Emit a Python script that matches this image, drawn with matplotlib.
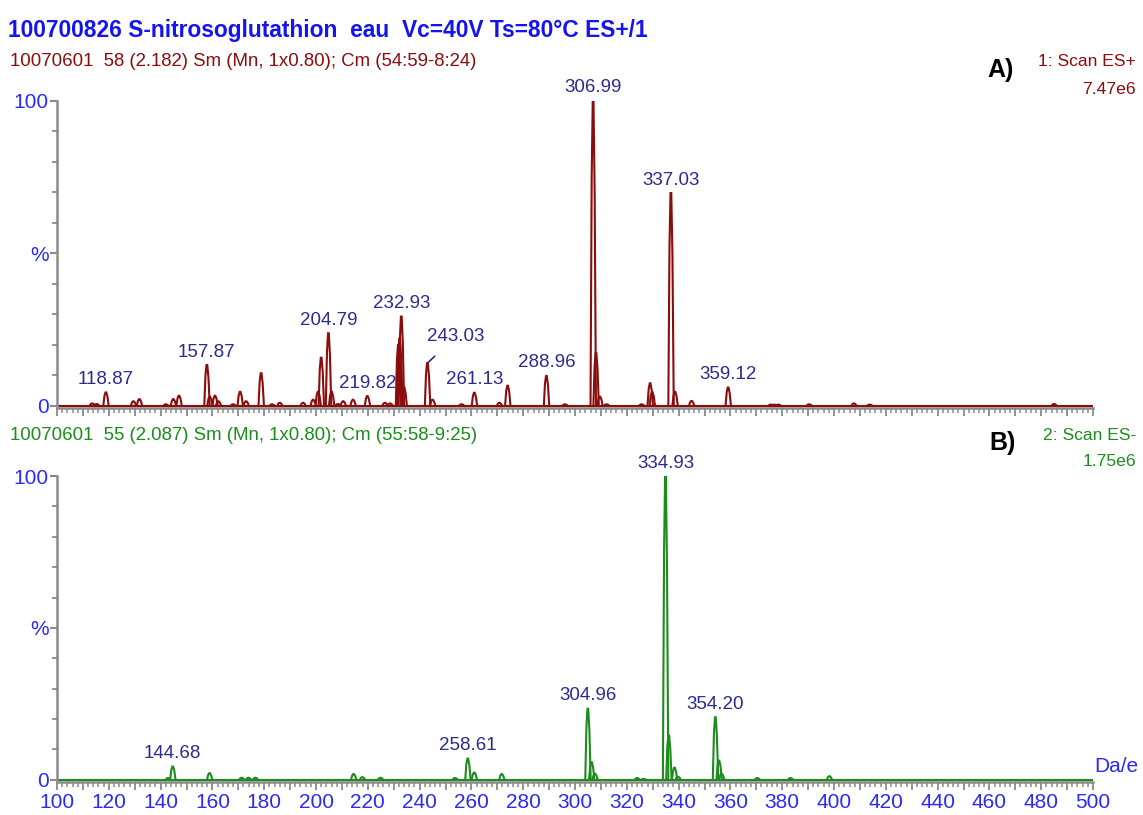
import matplotlib
matplotlib.use('Agg')
import matplotlib.pyplot as plt
from matplotlib.ticker import MultipleLocator, FixedLocator, FuncFormatter

plt.rcParams['font.family'] = ['Liberation Sans', 'DejaVu Sans']

# ES+ scan (m/z, relative intensity %)
mz_pos = [113.6, 115.3, 118.87, 129.5, 131.8, 142.0, 144.9, 147.1, 157.87, 159.0,
          161.0, 162.3, 168.0, 170.7, 173.0, 178.8, 183.0, 186.0, 195.0, 198.9,
          200.8, 202.0, 204.79, 206.0, 208.5, 210.5, 214.3, 219.82, 226.6, 228.6,
          231.8, 232.3, 232.93, 234.0, 243.03, 245.0, 256.2, 261.13, 270.8, 274.0,
          288.96, 296.1, 306.99, 308.1, 309.6, 312.2, 325.7, 329.0, 329.8, 337.03,
          338.6, 345.0, 359.12, 375.6, 377.0, 378.5, 390.4, 407.7, 413.8, 485.0]
int_pos = [0.8, 0.6, 4.4, 1.5, 2.2, 0.5, 2.2, 3.3, 13.4, 3.0,
           3.3, 1.5, 0.5, 4.6, 1.5, 10.7, 0.5, 1.0, 1.0, 2.0,
           4.6, 15.8, 23.8, 4.6, 0.6, 1.5, 2.0, 3.2, 1.0, 0.8,
           20.0, 22.0, 29.3, 6.0, 14.0, 2.0, 0.5, 4.3, 1.0, 6.6,
           9.8, 0.5, 100.0, 17.3, 3.0, 0.5, 0.5, 7.4, 4.5, 69.8,
           4.6, 1.6, 6.0, 0.4, 0.4, 0.4, 0.5, 0.8, 0.4, 0.6]
labels_pos = [118.87, 157.87, 204.79, 219.82, 232.93, 261.13, 288.96, 306.99, 337.03, 359.12]

# ES- scan
mz_neg = [142.9, 144.68, 158.9, 171.3, 173.9, 176.6, 214.5, 217.9, 224.9, 253.7,
          258.61, 261.1, 271.7, 304.96, 306.4, 307.7, 324.0, 326.5, 334.93, 336.2,
          338.4, 339.8, 354.20, 355.6, 356.6, 370.4, 383.2, 398.2]
int_neg = [0.6, 4.4, 2.2, 0.7, 0.7, 0.7, 1.9, 0.9, 0.7, 0.6,
           7.0, 2.4, 1.9, 23.4, 5.8, 2.0, 0.6, 0.3, 100.0, 14.6,
           4.0, 1.0, 20.6, 6.3, 2.0, 0.6, 0.6, 1.2]
labels_neg = [144.68, 258.61, 304.96, 334.93, 354.20]

RED = '#8b0c0c'
GREEN = '#1c8c1c'
BLUE = '#1414f0'
TICKBLUE = '#2a2aff'
NAVY = '#2b2b8f'
GREY = '#8a8a8a'

# peak outline: offsets in Da and fraction of height
shape_dx = [-1.0, -0.55, -0.15, 0.15, 0.6, 1.1]
shape_fy = [0.0, 0.75, 1.0, 1.0, 0.7, 0.0]


def draw_spectrum(ax, mz, inten, labels, color):
    ax.plot([100, 500], [0, 0], color=color, lw=1.5, zorder=2)
    for m, h in sorted(zip(mz, inten), key=lambda p: p[1]):
        ax.plot([m + d for d in shape_dx], [h * f for f in shape_fy],
                color=color, lw=1.5, zorder=3, solid_joinstyle='miter')
    for m, h in zip(mz, inten):
        if m in labels and m != 243.03:
            ax.annotate('%.2f' % m, (m, h), xytext=(0, 13), textcoords='offset pixels',
                        ha='center', va='center', color=NAVY, fontsize=13.5,
                        annotation_clip=False)


def style_axes(ax, show_xlabels):
    ax.set_xlim(100, 500)
    ax.set_ylim(-0.7, 100)
    for s in ['top', 'right']:
        ax.spines[s].set_visible(False)
    ax.spines['left'].set_bounds(0, 100)
    for s in ['left', 'bottom']:
        ax.spines[s].set_color(GREY)
        ax.spines[s].set_linewidth(1.8)
    ax.set_yticks([0, 50, 100])
    ax.set_yticklabels(['0', '%', '100'])
    ax.yaxis.set_minor_locator(FixedLocator([10, 20, 30, 40, 60, 70, 80, 90]))
    ax.tick_params(axis='y', which='major', length=5, width=1.5, color=GREY,
                   labelcolor=TICKBLUE, labelsize=15, pad=1)
    ax.tick_params(axis='y', which='minor', length=3.5, width=1.3, color=GREY)
    ax.xaxis.set_major_locator(MultipleLocator(10))
    ax.xaxis.set_minor_locator(MultipleLocator(2))
    ax.xaxis.set_major_formatter(FuncFormatter(
        lambda v, p: '%d' % v if show_xlabels and int(round(v)) % 20 == 0 else ''))
    ax.tick_params(axis='x', which='major', length=6, width=1.3, color=GREY,
                   labelcolor=TICKBLUE, labelsize=15, pad=2)
    ax.tick_params(axis='x', which='minor', length=3.5, width=1.1, color=GREY)


fig = plt.figure(figsize=(11.43, 8.15), dpi=100)
W, H = 1143.0, 815.0
left = 57 / W
width = (1093 - 57) / W
ax1 = fig.add_axes([left, 1 - 408 / H, width, 307 / H])
ax2 = fig.add_axes([left, 1 - 782 / H, width, 306 / H])

draw_spectrum(ax1, mz_pos, int_pos, labels_pos, RED)
draw_spectrum(ax2, mz_neg, int_neg, labels_neg, GREEN)
style_axes(ax1, False)
style_axes(ax2, True)

# 243.03 sits in a crowded spot, labelled with a leader line
ax1.annotate('243.03', (243.03, 14.0), xytext=(28, 27), textcoords='offset pixels',
             ha='center', va='center', color=NAVY, fontsize=13.5,
             arrowprops=dict(arrowstyle='-', color=NAVY, lw=1.2, shrinkA=9, shrinkB=1))

fig.text(8 / W, 1 - 30 / H, '100700826 S-nitrosoglutathion  eau  Vc=40V Ts=80\u00b0C ES+/1',
         color=BLUE, fontsize=16.4, fontweight='bold', ha='left', va='center')
fig.text(10 / W, 1 - 62 / H, '10070601  58 (2.182) Sm (Mn, 1x0.80); Cm (54:59-8:24)',
         color=RED, fontsize=13.4, ha='left', va='center')
fig.text(1001 / W, 1 - 70 / H, 'A)', color='black', fontsize=18, fontweight='bold',
         ha='center', va='center')
fig.text(1136 / W, 1 - 62 / H, '1: Scan ES+', color=RED, fontsize=12.6, ha='right', va='center')
fig.text(1136 / W, 1 - 89 / H, '7.47e6', color=RED, fontsize=12.6, ha='right', va='center')

fig.text(10 / W, 1 - 436 / H, '10070601  55 (2.087) Sm (Mn, 1x0.80); Cm (55:58-9:25)',
         color=GREEN, fontsize=13.4, ha='left', va='center')
fig.text(1003 / W, 1 - 443 / H, 'B)', color='black', fontsize=18, fontweight='bold',
         ha='center', va='center')
fig.text(1136 / W, 1 - 436 / H, '2: Scan ES-', color=GREEN, fontsize=12.6, ha='right', va='center')
fig.text(1136 / W, 1 - 462 / H, '1.75e6', color=GREEN, fontsize=12.6, ha='right', va='center')
fig.text(1094 / W, 1 - 766 / H, 'Da/e', color=TICKBLUE, fontsize=15, ha='left', va='center')

fig.savefig('out.png', dpi=100)
